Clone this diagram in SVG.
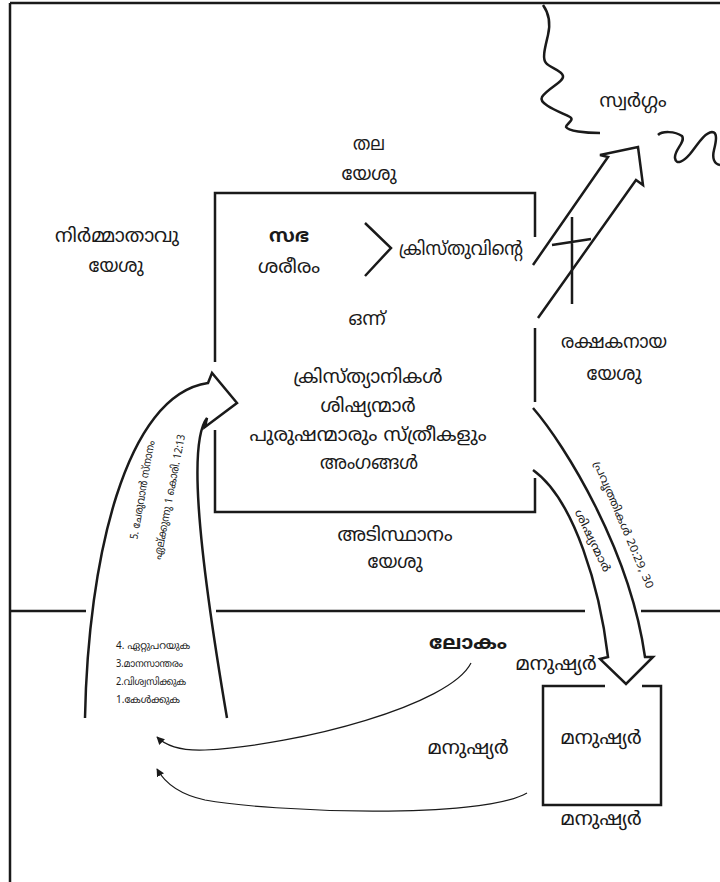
<svg xmlns="http://www.w3.org/2000/svg" width="720" height="882" viewBox="0 0 720 882">
<style>
.t{font-family:"Noto Sans Malayalam","Noto Sans",sans-serif;font-size:19px;fill:#1a1a1a;text-anchor:middle;dominant-baseline:central}
.b{font-weight:bold}
.s{font-size:11px}
.l{font-family:"Noto Sans Malayalam","Noto Sans",sans-serif;font-size:10px;fill:#1a1a1a;dominant-baseline:central}
.k{fill:none;stroke:#1a1a1a;stroke-width:2.5;stroke-linejoin:miter;stroke-linecap:butt}
.thin{fill:none;stroke:#1a1a1a;stroke-width:1.2}
</style>
<defs>
<marker id="ah" viewBox="0 0 10 10" refX="9" refY="5" markerWidth="8" markerHeight="8" markerUnits="userSpaceOnUse" orient="auto">
<path d="M0,0 L10,5 L0,10 z" fill="#1a1a1a"/>
</marker>
</defs>
<rect width="720" height="882" fill="#fff"/>
<g id="frame">
<path class="k" d="M10,3 L720,3 M10,3 L10,882" stroke-width="3"/>
<path class="k" d="M10,611 L86,611 M216,611 L585,611 M641,611 L720,611"/>
</g>
<g id="heaven">
<path class="k" d="M543,5 C548,12 551,22 548,35 C545,48 542,58 546,63 C550,68 562,70 563,76 C564,82 548,88 542,97 C538,104 560,112 570,117 C575,120 566,124 566,127 C568,131 585,133 600,133"/>
<path class="k" d="M658,135 C662,131 675,131 682,136 C686,142 674,150 675,158 C676,166 684,161 690,154 C698,144 704,133 712,132 C718,132 716,142 714,150 C712,158 714,164 720,165"/>
<text class="t" x="633" y="102" font-size="15">സ്വർഗ്ഗം</text>
</g>
<g id="church">
<path class="k" d="M215,362 L215,193 L535,193 L535,237 M535,328 L535,402 M535,478 L535,512 L215,512 L215,430"/>
<path class="k" d="M365,223 L391,248 L365,276"/>
<text class="t b" x="289" y="237" font-size="22" textLength="40" lengthAdjust="spacingAndGlyphs">സഭ</text>
<text class="t" x="289" y="268" textLength="62" lengthAdjust="spacingAndGlyphs">ശരീരം</text>
<text class="t" x="461" y="250" textLength="124" lengthAdjust="spacingAndGlyphs">ക്രിസ്തുവിന്റെ</text>
<text class="t" x="367" y="320" textLength="37" lengthAdjust="spacingAndGlyphs">ഒന്ന്</text>
<text class="t" x="368" y="378" textLength="149" lengthAdjust="spacingAndGlyphs">ക്രിസ്ത്യാനികൾ</text>
<text class="t" x="368" y="407" textLength="95" lengthAdjust="spacingAndGlyphs">ശിഷ്യന്മാർ</text>
<text class="t" x="368" y="436" textLength="237" lengthAdjust="spacingAndGlyphs">പുരുഷന്മാരും  സ്ത്രീകളും</text>
<text class="t" x="369" y="464" textLength="98" lengthAdjust="spacingAndGlyphs">അംഗങ്ങൾ</text>
</g>
<g id="head">
<text class="t" x="369" y="145" textLength="32" lengthAdjust="spacingAndGlyphs">തല</text>
<text class="t" x="369" y="175" textLength="55" lengthAdjust="spacingAndGlyphs">യേശു</text>
</g>
<g id="builder">
<text class="t" x="117" y="237" textLength="124" lengthAdjust="spacingAndGlyphs">നിർമ്മാതാവു</text>
<text class="t" x="116" y="267" textLength="55" lengthAdjust="spacingAndGlyphs">യേശു</text>
</g>
<g id="saviour">
<text class="t" x="614" y="343" textLength="106" lengthAdjust="spacingAndGlyphs">രക്ഷകനായ</text>
<text class="t" x="614" y="375" textLength="55" lengthAdjust="spacingAndGlyphs">യേശു</text>
</g>
<g id="foundation">
<text class="t" x="395" y="536" textLength="115" lengthAdjust="spacingAndGlyphs">അടിസ്ഥാനം</text>
<text class="t" x="395" y="563" textLength="55" lengthAdjust="spacingAndGlyphs">യേശു</text>
</g>
<g id="world">
<text class="t b" x="468" y="644" font-size="24" textLength="78" lengthAdjust="spacingAndGlyphs">ലോകം</text>
<text class="t" x="556" y="665" textLength="81" lengthAdjust="spacingAndGlyphs">മനുഷ്യർ</text>
<text class="t" x="468" y="749" textLength="81" lengthAdjust="spacingAndGlyphs">മനുഷ്യർ</text>
</g>
<g id="people">
<path class="k" d="M605,686 L543,686 L543,805 L661,805 L661,686 L642,686"/>
<text class="t" x="601" y="739" textLength="81" lengthAdjust="spacingAndGlyphs">മനുഷ്യർ</text>
<text class="t" x="601" y="820" textLength="81" lengthAdjust="spacingAndGlyphs">മനുഷ്യർ</text>
</g>
<g id="steps">
<text class="l" x="116" y="646" textLength="74" lengthAdjust="spacingAndGlyphs">4. ഏറ്റുപറയുക</text>
<text class="l" x="116" y="664" textLength="67" lengthAdjust="spacingAndGlyphs">3.മാനസാന്തരം</text>
<text class="l" x="116" y="682" textLength="70" lengthAdjust="spacingAndGlyphs">2.വിശ്വസിക്കുക</text>
<text class="l" x="116" y="700" textLength="64" lengthAdjust="spacingAndGlyphs">1.കേൾക്കുക</text>
</g>
<g id="connectors">
<path class="k" d="M533,265 L608,157 L600,155 L638,147 L643,185 L636,180 L538,318"/>
<path class="k" d="M572,217 L572,304 M552,245 L591,239"/>
<path class="k" d="M533,408 C565,445 630,550 645,657 L653,657 L626,684 L600,659 L608,657 C600,590 575,500 533,470"/>
<path class="k" d="M85,718 C88,560 125,395 208,383 L212,373 L237,403 L205,427 L207,418 C190,440 195,530 227,718"/>
<path class="thin" d="M471,663 C450,705 300,745 205,750 C180,751 165,745 157,737" marker-end="url(#ah)"/>
<path class="thin" d="M527,793 C480,820 270,812 205,800 C182,795 166,785 157,769" marker-end="url(#ah)"/>
<text class="t s" transform="translate(143,490) rotate(-80)" textLength="100" lengthAdjust="spacingAndGlyphs">5. ചേരുവാൻ സ്നാനം</text>
<text class="t s" transform="translate(170,497) rotate(-79)" textLength="127" lengthAdjust="spacingAndGlyphs">ഏല്ക്കുന്നു 1 കൊരി. 12:13</text>
<text class="t s" transform="translate(623,525) rotate(67)" textLength="137" lengthAdjust="spacingAndGlyphs">പ്രവൃത്തികൾ 20:29, 30</text>
<text class="t s" transform="translate(592,541) rotate(64)" textLength="68" lengthAdjust="spacingAndGlyphs">ശിഷ്യന്മാർ</text>
</g>
</svg>
